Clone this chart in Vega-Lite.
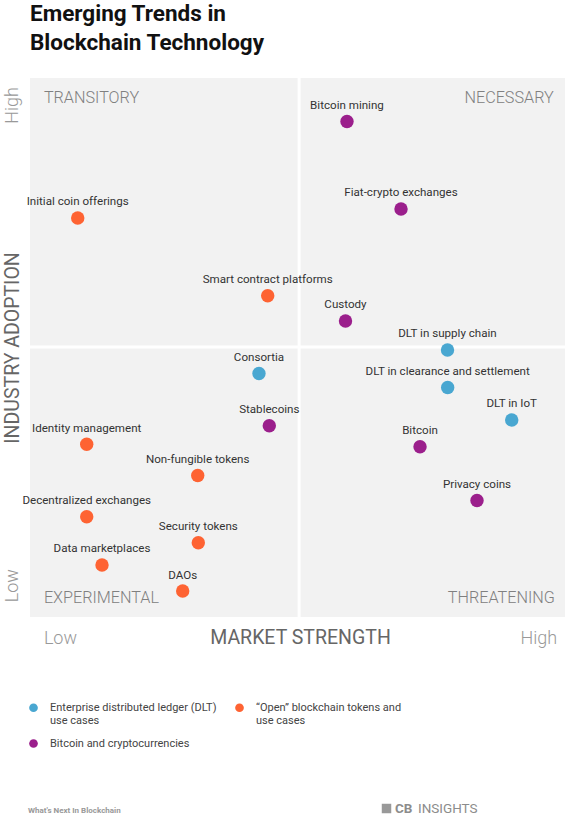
{
  "$schema": "https://vega.github.io/schema/vega-lite/v6.json",
  "width": 535,
  "height": 539,
  "autosize": {"type": "none"},
  "padding": {"left": 30, "top": 78, "right": 0, "bottom": 218},
  "background": "white",
  "config": {
    "view": {"fill": "#f2f2f2", "stroke": null},
    "font": "Roboto"
  },
  "title": {
    "text": ["Emerging Trends in", "Blockchain Technology"],
    "anchor": "start",
    "frame": "group",
    "font": "Roboto",
    "fontSize": 22.5,
    "fontWeight": "bold",
    "color": "#111111",
    "lineHeight": 29,
    "offset": 22
  },
  "datasets": {
    "trends": [
      {"name": "Bitcoin mining", "group": "Bitcoin and cryptocurrencies", "strength": 59.25, "adoption": 91.93},
      {"name": "Fiat-crypto exchanges", "group": "Bitcoin and cryptocurrencies", "strength": 69.35, "adoption": 75.7},
      {"name": "Initial coin offerings", "group": "“Open” blockchain tokens and use cases", "strength": 8.92, "adoption": 74.03},
      {"name": "Smart contract platforms", "group": "“Open” blockchain tokens and use cases", "strength": 44.43, "adoption": 59.61},
      {"name": "Custody", "group": "Bitcoin and cryptocurrencies", "strength": 58.97, "adoption": 54.92},
      {"name": "DLT in supply chain", "group": "Enterprise distributed ledger (DLT) use cases", "strength": 78.04, "adoption": 49.54},
      {"name": "Consortia", "group": "Enterprise distributed ledger (DLT) use cases", "strength": 42.8, "adoption": 45.18},
      {"name": "DLT in clearance and settlement", "group": "Enterprise distributed ledger (DLT) use cases", "strength": 78.07, "adoption": 42.58},
      {"name": "DLT in IoT", "group": "Enterprise distributed ledger (DLT) use cases", "strength": 90.04, "adoption": 36.55},
      {"name": "Stablecoins", "group": "Bitcoin and cryptocurrencies", "strength": 44.73, "adoption": 35.49},
      {"name": "Identity management", "group": "“Open” blockchain tokens and use cases", "strength": 10.6, "adoption": 32.04},
      {"name": "Bitcoin", "group": "Bitcoin and cryptocurrencies", "strength": 72.9, "adoption": 31.6},
      {"name": "Non-fungible tokens", "group": "“Open” blockchain tokens and use cases", "strength": 31.35, "adoption": 26.25},
      {"name": "Privacy coins", "group": "Bitcoin and cryptocurrencies", "strength": 83.55, "adoption": 21.61},
      {"name": "Decentralized exchanges", "group": "“Open” blockchain tokens and use cases", "strength": 10.6, "adoption": 18.61},
      {"name": "Security tokens", "group": "“Open” blockchain tokens and use cases", "strength": 31.46, "adoption": 13.78},
      {"name": "Data marketplaces", "group": "“Open” blockchain tokens and use cases", "strength": 13.46, "adoption": 9.65},
      {"name": "DAOs", "group": "“Open” blockchain tokens and use cases", "strength": 28.54, "adoption": 4.82}
    ],
    "quadrantsLeft": [
      {"label": "TRANSITORY", "strength": 2.6, "adoption": 95.4},
      {"label": "EXPERIMENTAL", "strength": 2.6, "adoption": 2.6}
    ],
    "quadrantsRight": [
      {"label": "NECESSARY", "strength": 97.9, "adoption": 95.4},
      {"label": "THREATENING", "strength": 98.1, "adoption": 2.6}
    ]
  },
  "layer": [
    {
      "data": {"name": "trends"},
      "mark": {"type": "circle", "size": 0, "opacity": 0},
      "encoding": {
        "x": {
          "field": "strength",
          "type": "quantitative",
          "scale": {"domain": [0, 100], "nice": false, "zero": false},
          "axis": {
            "values": [5.6, 95],
            "labelExpr": "datum.value < 50 ? 'Low' : 'High'",
            "domain": false,
            "ticks": false,
            "tickSize": 0,
            "grid": false,
            "labelFlush": false,
            "labelOverlap": false,
            "labelAlign": "center",
            "labelBaseline": "alphabetic",
            "labelPadding": 26,
            "labelFontSize": 18,
            "labelFontWeight": 300,
            "labelColor": "#999999",
            "title": "MARKET STRENGTH",
            "titleFontSize": 19.5,
            "titleFontWeight": "normal",
            "titleColor": "#666666",
            "titleAlign": "center",
            "titleBaseline": "alphabetic",
            "titleX": 270,
            "titleY": 26
          }
        },
        "y": {
          "field": "adoption",
          "type": "quantitative",
          "scale": {"domain": [0, 100], "nice": false, "zero": false},
          "axis": {
            "values": [5.9, 95],
            "labelExpr": "datum.value < 50 ? 'Low' : 'High'",
            "domain": false,
            "ticks": false,
            "tickSize": 0,
            "grid": false,
            "labelFlush": false,
            "labelOverlap": false,
            "labelAngle": 270,
            "labelAlign": "center",
            "labelBaseline": "alphabetic",
            "labelPadding": 13,
            "labelFontSize": 18,
            "labelFontWeight": 300,
            "labelColor": "#999999",
            "title": "INDUSTRY ADOPTION",
            "titleFontSize": 19.5,
            "titleFontWeight": "normal",
            "titleColor": "#666666",
            "titleAngle": 270,
            "titleAlign": "center",
            "titleBaseline": "alphabetic",
            "titleX": -11.5,
            "titleY": 269.5
          }
        }
      }
    },
    {
      "data": {"values": [{}]},
      "mark": {"type": "rule", "color": "white", "strokeWidth": 3},
      "encoding": {
        "x": {"datum": 50.3, "type": "quantitative"}
      }
    },
    {
      "data": {"values": [{}]},
      "mark": {"type": "rule", "color": "white", "strokeWidth": 3},
      "encoding": {
        "y": {"datum": 50.1, "type": "quantitative"}
      }
    },
    {
      "data": {"name": "quadrantsLeft"},
      "mark": {"type": "text", "align": "left", "baseline": "alphabetic", "fontSize": 16.2, "fontWeight": 300, "color": "#808080"},
      "encoding": {
        "x": {"field": "strength", "type": "quantitative"},
        "y": {"field": "adoption", "type": "quantitative"},
        "text": {"field": "label"}
      }
    },
    {
      "data": {"name": "quadrantsRight"},
      "mark": {"type": "text", "align": "right", "baseline": "alphabetic", "fontSize": 16.2, "fontWeight": 300, "color": "#808080"},
      "encoding": {
        "x": {"field": "strength", "type": "quantitative"},
        "y": {"field": "adoption", "type": "quantitative"},
        "text": {"field": "label"}
      }
    },
    {
      "data": {"name": "trends"},
      "mark": {"type": "circle", "size": 180, "opacity": 1},
      "encoding": {
        "x": {"field": "strength", "type": "quantitative"},
        "y": {"field": "adoption", "type": "quantitative"},
        "color": {
          "field": "group",
          "type": "nominal",
          "scale": {
            "domain": ["Enterprise distributed ledger (DLT) use cases", "“Open” blockchain tokens and use cases", "Bitcoin and cryptocurrencies"],
            "range": ["#49a7d1", "#fe6333", "#9b1f8c"]
          },
          "legend": {
            "orient": "none",
            "legendX": -2,
            "legendY": 624,
            "direction": "horizontal",
            "columns": 2,
            "title": null,
            "padding": 0,
            "symbolType": "circle",
            "symbolSize": 75,
            "symbolOpacity": 1,
            "symbolStrokeWidth": 0,
            "labelFontSize": 11,
            "labelColor": "#444444",
            "labelOffset": 11,
            "labelLimit": 300,
            "labelBaseline": "middle",
            "labelExpr": "datum.label == 'Bitcoin and cryptocurrencies' ? datum.label : [replace(datum.label, ' use cases', ''), 'use cases']",
            "columnPadding": 17,
            "rowPadding": 11
          }
        }
      }
    },
    {
      "data": {"name": "trends"},
      "mark": {"type": "text", "align": "center", "baseline": "alphabetic", "dy": -12.5, "fontSize": 11.6, "color": "#333333"},
      "encoding": {
        "x": {"field": "strength", "type": "quantitative"},
        "y": {"field": "adoption", "type": "quantitative"},
        "text": {"field": "name"}
      }
    },
    {
      "data": {"values": [{}]},
      "mark": {"type": "text", "text": "What's Next In Blockchain", "align": "left", "baseline": "alphabetic", "fontSize": 8, "fontWeight": "bold", "color": "#999999"},
      "encoding": {"x": {"value": -2}, "y": {"value": 735}}
    },
    {
      "data": {"values": [{}]},
      "mark": {"type": "point", "shape": "square", "filled": true, "size": 90, "color": "#999999", "opacity": 1},
      "encoding": {"x": {"value": 356.5}, "y": {"value": 730.5}}
    },
    {
      "data": {"values": [{}]},
      "mark": {"type": "text", "text": "CB", "align": "left", "baseline": "alphabetic", "fontSize": 13.5, "fontWeight": "bold", "color": "#8c8c8c"},
      "encoding": {"x": {"value": 365}, "y": {"value": 735}}
    },
    {
      "data": {"values": [{}]},
      "mark": {"type": "text", "text": "INSIGHTS", "align": "left", "baseline": "alphabetic", "fontSize": 13.5, "fontWeight": "normal", "color": "#8c8c8c"},
      "encoding": {"x": {"value": 388}, "y": {"value": 735}}
    }
  ]
}
